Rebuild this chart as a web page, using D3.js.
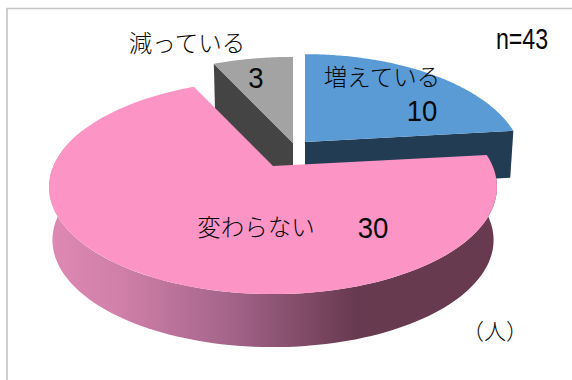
<!DOCTYPE html>
<html lang="ja">
<head>
<meta charset="utf-8">
<style>
html,body{margin:0;padding:0;background:#fff;}
svg{display:block;}
text{font-family:"Noto Sans CJK JP","Noto Sans",sans-serif;fill:#0a0a0a;font-weight:300;}
text.num{font-family:"Liberation Sans",Arial,sans-serif;font-weight:400;}
</style>
<script src="https://cdn.jsdelivr.net/npm/d3@7"></script>
</head>
<body>
<svg id="chart" width="572" height="380"></svg>
<script>
const categories = ["増えている", "変わらない", "減っている"];
const values = [10, 30, 3];
const total = 43;
const topColors = ["#5b9bd5", "#fd94c6", "#a3a3a3"];
const sideColors = ["#223c54", "url(#pinkWall)", "#444444"];
// Screen position of each slice's hub: slices are pulled apart from one another.
const hubs = [[305, 142], [273, 166], [293, 143]];
const widen = [0.975, 1, 1];
const deepen = [1.02, 1, 1];
const depths = [47, 53, 47];
const labelPositions = [[382, 86], [256, 236], [187, 52]];
const valuePositions = [[422, 121], [373, 238], [256, 88]];

const svg = d3.select("#chart");

// Tilted-disc projection: u runs right, v runs toward the viewer, near points grow.
const A = 219.6, B = 103, K = 0.196;
function project(i, angle, lift) {
  const u = Math.sin(angle), v = -Math.cos(angle);
  const d = 1 - K * v;
  const shrink = lift ? 0.985 : 1;
  return [
    hubs[i][0] + shrink * widen[i] * A * u / d,
    hubs[i][1] + deepen[i] * B * v / d + (lift ? depths[i] : 0)
  ];
}

const arcs = d3.pie().sort(null).startAngle(0).endAngle(2 * Math.PI)(values);
const line = d3.line().curve(d3.curveLinear);
const sweep = (a, b) => d3.range(0, 121).map(n => a + (b - a) * n / 120);

const defs = svg.append("defs");
const grad = defs.append("linearGradient")
  .attr("id", "pinkWall").attr("gradientUnits", "userSpaceOnUse")
  .attr("x1", 52).attr("x2", 497).attr("y1", 0).attr("y2", 0);
[[0, "#dd89b3"], [0.16, "#cf7fa8"], [0.4, "#a4648a"], [0.68, "#683a50"], [1, "#683a50"]]
  .forEach(([o, c]) => grad.append("stop").attr("offset", o).attr("stop-color", c));

// Chart frame: only the top and left edges show.
svg.append("path").attr("d", "M7,380V8.5H572")
  .attr("fill", "none").attr("stroke", "#c4c4c4").attr("stroke-width", 1.6);

const order = [0, 2, 1];
order.forEach(i => {
  const a = arcs[i];
  const g = svg.append("g");
  const hub = hubs[i];
  const hubLow = [hub[0], hub[1] + depths[i]];
  if (i === 1) {
    // Curved outer wall of the large slice, visible along the near side.
    const wallAngles = sweep(a.startAngle, 1.62 * Math.PI);
    const ring = wallAngles.map(t => project(i, t, false))
      .concat(wallAngles.slice().reverse().map(t => project(i, t, true)));
    g.append("path").attr("d", line(ring) + "Z").attr("fill", sideColors[i]);
  } else {
    // Flat cut face of a pulled-out slice.
    const edge = i === 0 ? a.endAngle : a.startAngle;
    const face = [hub, project(i, edge, false), project(i, edge, true), hubLow];
    g.append("path").attr("d", line(face) + "Z").attr("fill", sideColors[i]);
  }
  const top = [hub].concat(sweep(a.startAngle, a.endAngle).map(t => project(i, t, false)));
  g.append("path").attr("d", line(top) + "Z").attr("fill", topColors[i]);
});

// Digits are set tall and condensed.
function condensed(str, x, y, size, squeeze) {
  svg.append("text").attr("class", "num")
    .attr("transform", `translate(${x},${y}) scale(${squeeze},1)`)
    .attr("text-anchor", "middle").attr("font-size", size).text(str);
}

// Category names and their counts.
categories.forEach((name, i) => {
  svg.append("text").attr("x", labelPositions[i][0]).attr("y", labelPositions[i][1])
    .attr("text-anchor", "middle").attr("font-size", 23.5).text(name);
  condensed(values[i], valuePositions[i][0], valuePositions[i][1], 30, 0.92);
});

condensed("n=" + total, 522, 49, 29, 0.8);
svg.append("text").attr("x", 495).attr("y", 339).attr("text-anchor", "middle")
  .attr("font-size", 22).text("（人）");
</script>
</body>
</html>
